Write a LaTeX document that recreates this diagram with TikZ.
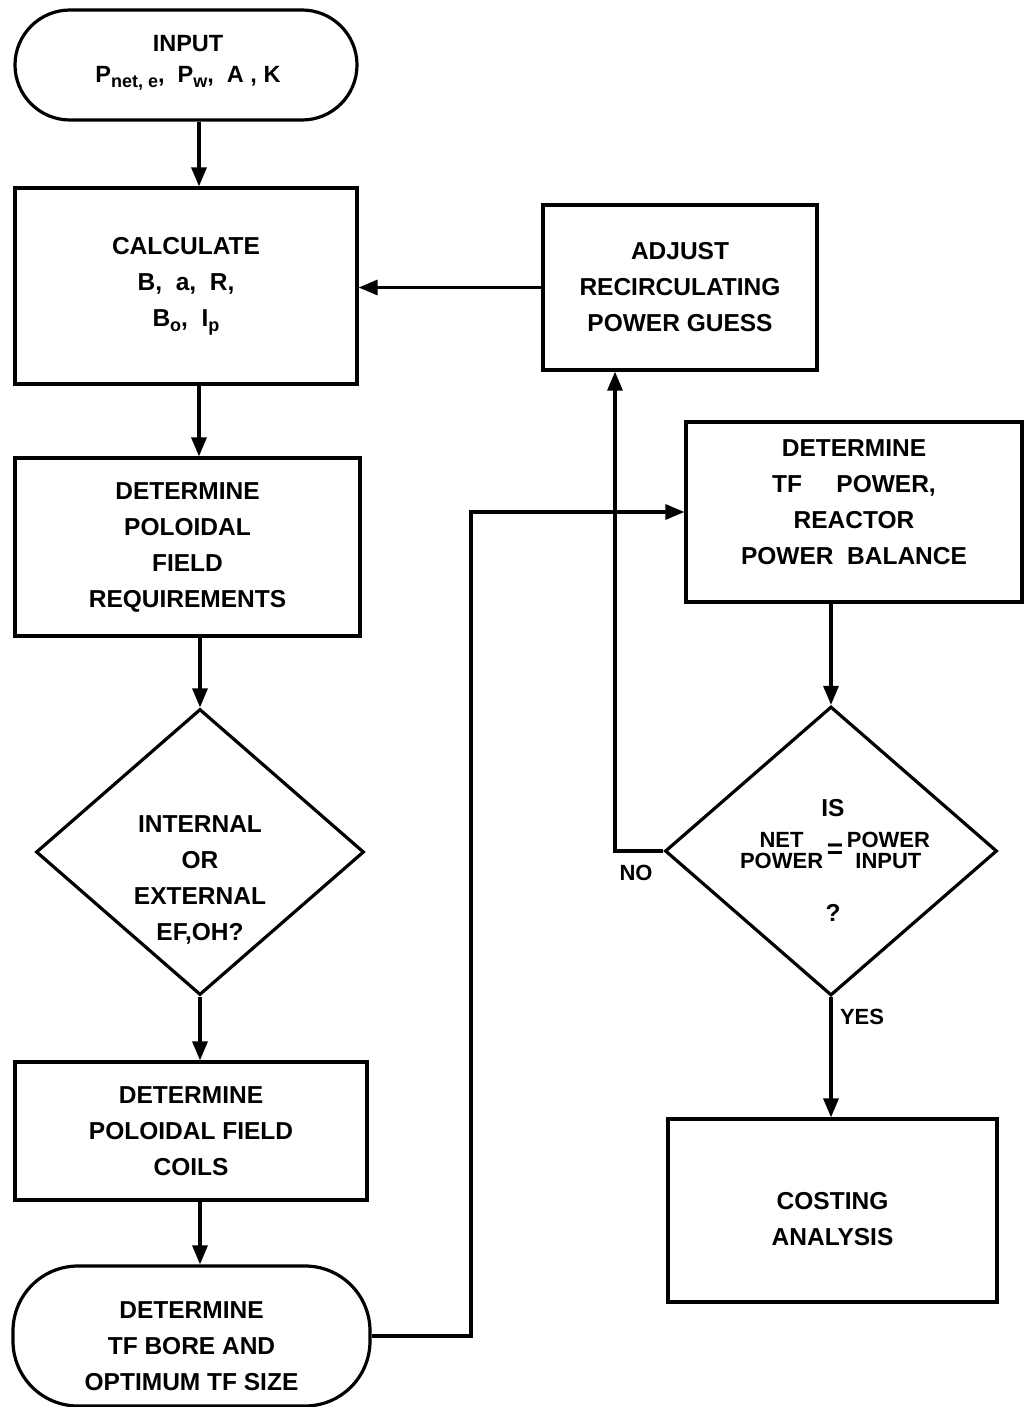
\documentclass[tikz,border=0pt]{standalone}
\usepackage{fontspec}
\setmainfont{Liberation Sans}
\usetikzlibrary{arrows.meta,shapes.geometric,calc}
\newcommand{\sbs}[1]{\raisebox{-0.4ex}{\fontsize{18}{18}\selectfont #1}}
\begin{document}
\begin{tikzpicture}[x=1pt,y=-1pt, line width=3.2pt,
  box/.style={draw, rectangle, inner sep=0pt, align=center, font=\fontsize{24.5}{36}\selectfont\bfseries},
  term/.style={box, rounded corners=55pt},
  dec/.style={draw, diamond, inner sep=0pt},
  lbl/.style={font=\fontsize{24.5}{36}\selectfont\bfseries, align=center, inner sep=0pt},
  arr/.style={-{Triangle[length=19pt,width=15pt]}},
]
\useasboundingbox (0,0) rectangle (1024,1407);
% left column
\node[term, minimum width=342pt, minimum height=110pt] (in) at (186,65) {};
\node[lbl, font=\fontsize{23.5}{31}\selectfont\bfseries] (int) at (188,63)
  {INPUT\\P\sbs{net, e}, \ P\sbs{w}, \ A , K};
\node[box, minimum width=342pt, minimum height=196pt] (calc) at (186,286)
  {CALCULATE\\ B, \ a, \ R,\\ B\sbs{o}, \ I\sbs{p}};
\node[box, minimum width=345pt, minimum height=178pt] (pfr) at (187.5,547)
  {DETERMINE\\POLOIDAL\\FIELD\\REQUIREMENTS};
\node[dec, minimum width=328pt, minimum height=286pt] (d1) at (200,852) {};
\node[lbl] (d1t) at (200,880) {INTERNAL\\OR\\EXTERNAL\\EF,OH?};
\node[box, minimum width=352pt, minimum height=138pt] (pfc) at (191,1131)
  {DETERMINE\\POLOIDAL FIELD\\COILS};
\node[term, minimum width=357pt, minimum height=140pt, rounded corners=65pt] (tfb) at (191.5,1336) {};
\node[lbl] (tfbt) at (191.5,1346) {DETERMINE\\TF BORE AND\\OPTIMUM TF SIZE};
% right column
\node[box, minimum width=274pt, minimum height=165pt] (adj) at (680,287.5)
  {ADJUST\\RECIRCULATING\\POWER GUESS};
\node[box, minimum width=336pt, minimum height=180pt] (tfp) at (854,512) {};
\node[lbl] (tfpt) at (854,502) {DETERMINE\\TF\hspace{1.4em}POWER,\\REACTOR\\POWER \ BALANCE};
\node[dec, minimum width=332pt, minimum height=289pt] (d2) at (831,851) {};
\node[lbl] (d2a) at (833,808) {IS};
\node[lbl, font=\fontsize{22}{17.5}\selectfont\bfseries] (d2b) at (835,853)
  {\begin{tabular}{@{}c@{}}NET\\POWER\end{tabular}\,{\fontsize{28}{28}\selectfont=}\,\begin{tabular}{@{}c@{}}POWER\\INPUT\end{tabular}};
\node[lbl] (d2c) at (833,913) {?};
\node[box, minimum width=329pt, minimum height=183pt] (cost) at (832.5,1210.5) {};
\node[lbl] (costt) at (832.5,1219) {COSTING\\ANALYSIS};
\node[lbl, font=\fontsize{22}{24}\selectfont\bfseries] (no) at (636,873) {NO};
\node[lbl, font=\fontsize{22}{24}\selectfont\bfseries] (yes) at (862,1017) {YES};
% connectors
\coordinate (xa) at (199,0);
\coordinate (jx) at (471,0);
\coordinate (nx) at (615,0);
\draw[arr] (in.south -| xa) -- (calc.north -| xa);
\draw[arr] (adj.west) -- (adj.west -| calc.east);
\draw[arr] (calc.south -| xa) -- (pfr.north -| xa);
\draw[arr] (pfr.south -| d1.north) -- (d1.north);
\draw[arr] (d1.south) -- (d1.south |- pfc.north);
\draw[arr] (pfc.south -| d1.south) -- (tfb.north -| d1.south);
\draw[arr] (tfb.east) -- (tfb.east -| jx) -- (jx |- tfp.west) -- (tfp.west);
\draw[arr] (tfp.south -| d2.north) -- (d2.north);
\draw[arr] (d2.west) -- (d2.west -| nx) -- (nx |- adj.south);
\draw[arr] (d2.south) -- (d2.south |- cost.north);
\end{tikzpicture}
\end{document}
